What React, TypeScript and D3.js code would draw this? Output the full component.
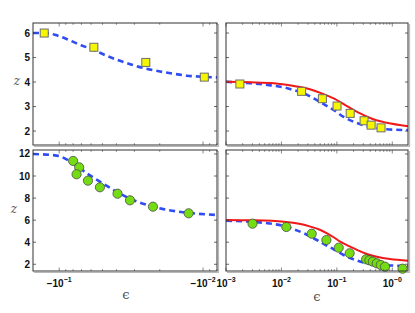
import * as d3 from "d3";
import React from "react";

// [epsilon, z] pairs
const topLeftFit: [number, number][] = [
  [-0.152, 6.0], [-0.116, 6.0], [-0.107, 5.93], [-0.0889, 5.76], [-0.0718, 5.52],
  [-0.0579, 5.32], [-0.0468, 5.07], [-0.0378, 4.87], [-0.0305, 4.69], [-0.0247, 4.54],
  [-0.0199, 4.43], [-0.0161, 4.34], [-0.013, 4.26], [-0.0105, 4.22], [-0.008, 4.19],
];
const topLeftData: [number, number][] = [
  [-0.127, 6.0], [-0.0574, 5.42], [-0.025, 4.8], [-0.0098, 4.2],
];

const topRightFit: [number, number][] = [
  [0.001, 4.01], [0.0028, 3.95], [0.0056, 3.88], [0.0111, 3.78], [0.0168, 3.67],
  [0.0254, 3.54], [0.0383, 3.33], [0.0578, 3.1], [0.0875, 2.86], [0.132, 2.58],
  [0.2, 2.38], [0.302, 2.24], [0.456, 2.15], [0.792, 2.07], [1.92, 2.04],
];
const topRightTheory: [number, number][] = [
  [0.001, 4.01], [0.0028, 3.99], [0.0073, 3.95], [0.0168, 3.84], [0.0292, 3.74],
  [0.0505, 3.56], [0.0875, 3.33], [0.152, 3.02], [0.264, 2.72], [0.456, 2.48],
  [0.792, 2.34], [1.92, 2.2],
];
const topRightData: [number, number][] = [
  [0.00178, 3.92], [0.0231, 3.62], [0.0548, 3.32], [0.1007, 3.02],
  [0.174, 2.72], [0.31, 2.42], [0.415, 2.24], [0.627, 2.13],
];

const bottomLeftFit: [number, number][] = [
  [-0.152, 12.0], [-0.104, 11.85], [-0.08, 11.16], [-0.0644, 10.25], [-0.0521, 9.49],
  [-0.0399, 8.58], [-0.0306, 7.83], [-0.0222, 7.22], [-0.013, 6.68], [-0.008, 6.47],
];
const bottomLeftData: [number, number][] = [
  [-0.08, 11.37], [-0.0726, 10.79], [-0.0757, 10.16], [-0.0631, 9.58], [-0.0521, 8.98],
  [-0.0393, 8.4], [-0.0322, 7.8], [-0.0223, 7.22], [-0.0126, 6.62],
];

const bottomRightFit: [number, number][] = [
  [0.001, 5.95], [0.0028, 5.86], [0.0056, 5.72], [0.0111, 5.47], [0.0168, 5.17],
  [0.0254, 4.81], [0.0383, 4.36], [0.0578, 3.84], [0.0875, 3.36], [0.132, 2.84],
  [0.2, 2.45], [0.302, 2.15], [0.456, 2.0], [0.792, 1.91], [1.92, 1.85],
];
const bottomRightTheory: [number, number][] = [
  [0.001, 6.02], [0.0028, 5.99], [0.0111, 5.86], [0.0221, 5.65], [0.0334, 5.41],
  [0.0505, 5.11], [0.0665, 4.81], [0.0875, 4.45], [0.115, 4.05], [0.174, 3.6],
  [0.23, 3.3], [0.347, 2.93], [0.525, 2.69], [0.91, 2.48], [1.92, 2.33],
];
const bottomRightData: [number, number][] = [
  [0.00301, 5.68], [0.01225, 5.38], [0.0352, 4.77], [0.0647, 4.2], [0.108, 3.5],
  [0.17, 3.0], [0.337, 2.45], [0.386, 2.36], [0.445, 2.24], [0.525, 2.09],
  [0.619, 1.94], [0.74, 1.78], [1.53, 1.6],
];

const topYTicks = [2, 3, 4, 5, 6];
const bottomYTicks = [2, 4, 6, 8, 10, 12];
const leftXTicks = [-0.1, -0.01];
const rightXTicks = [0.001, 0.01, 0.1, 1];

const leftX = d3.scaleLog().domain([-0.152, -0.008]).range([33, 217]);
const rightX = d3.scaleLog().domain([0.001, 1.92]).range([226, 408]);
const topY = d3.scaleLinear().domain([1.43, 6.41]).range([145, 23]);
const bottomY = d3.scaleLinear().domain([1.39, 12.36]).range([271, 150]);

const BLUE = "#2f4cf5";
const RED = "#f01818";
const tickFont = "'Liberation Sans', Arial, sans-serif";

interface PanelProps {
  id: string;
  x: d3.ScaleLogarithmic<number, number>;
  y: d3.ScaleLinear<number, number>;
  yTicks: number[];
  showY: boolean;
  xTicks?: number[];
  negative?: boolean;
  fit: [number, number][];
  theory?: [number, number][];
  data: [number, number][];
  marker: "square" | "circle";
}

function Panel(props: PanelProps) {
  const { id, x, y, yTicks, showY, xTicks, negative, fit, theory, data, marker } = props;
  const [x0, x1] = x.range();
  const [y0, y1] = y.range(); // y0 bottom, y1 top
  const line = d3.line<[number, number]>()
    .x((d) => x(d[0]))
    .y((d) => y(d[1]))
    .curve(d3.curveMonotoneX);
  const minor = x.ticks();
  const isMajor = (v: number) => Math.abs(Math.log10(Math.abs(v)) - Math.round(Math.log10(Math.abs(v)))) < 1e-6;

  return (
    <g>
      <defs>
        <clipPath id={id}>
          <rect x={x0} y={y1} width={x1 - x0} height={y0 - y1} />
        </clipPath>
      </defs>
      <rect x={x0} y={y1} width={x1 - x0} height={y0 - y1} fill="white" />
      {/* light shadow edge */}
      <path d={`M${x1 + 1.5},${y1 + 1} V${y0 + 1.5} H${x0 + 1}`} fill="none" stroke="#b8b8b8" strokeWidth={1.2} />
      <g clipPath={`url(#${id})`}>
        <path d={line(fit) ?? ""} fill="none" stroke={BLUE} strokeWidth={2.6} strokeDasharray="6,4" />
        {theory && <path d={line(theory) ?? ""} fill="none" stroke={RED} strokeWidth={2} />}
      </g>
      {data.map((d, i) =>
        marker === "square" ? (
          <rect key={i} x={x(d[0]) - 4} y={y(d[1]) - 4} width={8} height={8}
            fill="#f6f600" stroke="#6e6e6e" strokeWidth={1} />
        ) : (
          <circle key={i} cx={x(d[0])} cy={y(d[1])} r={4.6}
            fill="#74dc12" stroke="#4a4a4a" strokeWidth={0.8} />
        )
      )}
      {/* y ticks */}
      {yTicks.map((t) => (
        <g key={t}>
          <line x1={x0} x2={x0 + 3} y1={y(t)} y2={y(t)} stroke="#444" strokeWidth={0.8} />
          <line x1={x1} x2={x1 - 3} y1={y(t)} y2={y(t)} stroke="#444" strokeWidth={0.8} />
          {showY && (
            <text x={x0 - 3} y={y(t)} dy="0.35em" textAnchor="end" fontFamily={tickFont}
              fontWeight="bold" fontSize={10} fill="#111">{t}</text>
          )}
        </g>
      ))}
      {/* x ticks (log, major + minor) */}
      {minor.map((t, i) => {
        const len = isMajor(t) ? 3.5 : 1.8;
        return (
          <g key={i}>
            <line x1={x(t)} x2={x(t)} y1={y0} y2={y0 - len} stroke="#555" strokeWidth={0.7} />
            <line x1={x(t)} x2={x(t)} y1={y1} y2={y1 + len} stroke="#555" strokeWidth={0.7} />
          </g>
        );
      })}
      {xTicks && xTicks.map((t) => (
        <text key={t} x={x(t)} y={y0 + 16} textAnchor="middle" fontFamily={tickFont}
          fontWeight="bold" fontSize={10} fill="#111">
          {negative ? "\u221210" : "10"}
          <tspan dy={-5} fontSize={7}>{"\u2212" + Math.round(-Math.log10(Math.abs(t)))}</tspan>
        </text>
      ))}
      <rect x={x0} y={y1} width={x1 - x0} height={y0 - y1} fill="none" stroke="#333" strokeWidth={1} />
    </g>
  );
}

export default function App() {
  return (
    <div style={{ position: "absolute", left: 0, top: 0 }}>
      <svg width={415} height={313} style={{ display: "block" }}>
        <rect width={415} height={313} fill="white" />
        <Panel id="c1" x={leftX} y={topY} yTicks={topYTicks} showY={true}
          fit={topLeftFit} data={topLeftData} marker="square" />
        <Panel id="c2" x={rightX} y={topY} yTicks={topYTicks} showY={false}
          fit={topRightFit} theory={topRightTheory} data={topRightData} marker="square" />
        <Panel id="c3" x={leftX} y={bottomY} yTicks={bottomYTicks} showY={true}
          xTicks={leftXTicks} negative={true}
          fit={bottomLeftFit} data={bottomLeftData} marker="circle" />
        <Panel id="c4" x={rightX} y={bottomY} yTicks={bottomYTicks} showY={false}
          xTicks={rightXTicks} fit={bottomRightFit} theory={bottomRightTheory}
          data={bottomRightData} marker="circle" />
        <text x={17} y={85} textAnchor="middle" fontFamily="'DejaVu Serif', serif" fontStyle="italic"
          fontSize={12} fill="#555">z</text>
        <text x={14} y={213} textAnchor="middle" fontFamily="'DejaVu Serif', serif" fontStyle="italic"
          fontSize={12} fill="#555">z</text>
        <text x={126} y={299} textAnchor="middle" fontFamily="'DejaVu Serif', serif"
          fontSize={13} fill="#555">{"\u03f5"}</text>
        <text x={317} y={301} textAnchor="middle" fontFamily="'DejaVu Serif', serif"
          fontSize={13} fill="#555">{"\u03f5"}</text>
      </svg>
    </div>
  );
}
